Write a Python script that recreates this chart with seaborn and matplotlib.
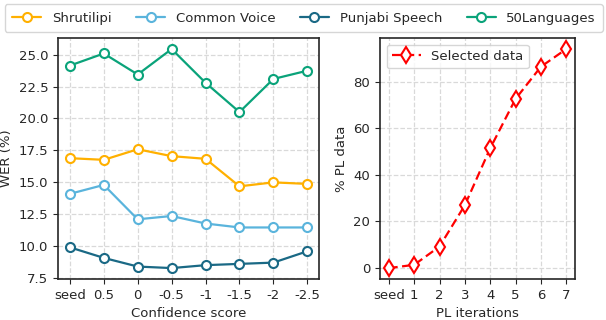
import pandas as pd
import matplotlib
matplotlib.use("Agg")
import matplotlib.pyplot as plt
import seaborn as sns

# left panel: WER vs confidence score threshold
scores = ["seed", "0.5", "0", "-0.5", "-1", "-1.5", "-2", "-2.5"]
shrutilipi = [16.88, 16.75, 17.58, 17.04, 16.83, 14.67, 14.98, 14.86]
common_voice = [14.08, 14.78, 12.08, 12.34, 11.75, 11.44, 11.44, 11.44]
punjabi_speech = [9.88, 9.05, 8.37, 8.25, 8.48, 8.58, 8.68, 9.57]
fifty_languages = [24.15, 25.1, 23.45, 25.45, 22.8, 20.5, 23.1, 23.75]
dataset_names = ["Shrutilipi", "Common Voice", "Punjabi Speech", "50Languages"]
colors = ["#FFB000", "#5AB4DC", "#1A6985", "#0AA37A"]

# right panel: selected PL data per iteration
iterations = ["seed", "1", "2", "3", "4", "5", "6", "7"]
pl_data = [0.0, 1.4, 9.25, 27.0, 51.4, 72.6, 86.4, 94.0]

sns.set_style("ticks")
plt.rcParams["font.family"] = ["DejaVu Sans"]
plt.rcParams["font.size"] = 9.5

fig = plt.figure(figsize=(6.06, 3.2), dpi=100)
ax1 = fig.add_axes([0.0957, 0.128, 0.431, 0.753])
ax2 = fig.add_axes([0.627, 0.128, 0.322, 0.753])

series = [shrutilipi, common_voice, punjabi_speech, fifty_languages]
for name, vals, c in zip(dataset_names, series, colors):
    sns.lineplot(x=scores, y=vals, color=c, marker="o", markersize=6.5,
                 markerfacecolor="white", markeredgecolor=c,
                 markeredgewidth=1.5, linewidth=1.6, label=name,
                 sort=False, ax=ax1)
handles, labels = ax1.get_legend_handles_labels()
ax1.get_legend().remove()
ax1.set_xlabel("Confidence score")
ax1.set_ylabel("WER (%)")
ax1.set_yticks([7.5, 10.0, 12.5, 15.0, 17.5, 20.0, 22.5, 25.0])
ax1.grid(True, linestyle="--", color="#d9d9d9", linewidth=0.9)

sns.lineplot(x=iterations, y=pl_data, color="red", linestyle=(0, (4, 2)),
             marker="d", markersize=8, markerfacecolor="white",
             markeredgecolor="red", markeredgewidth=1.5, linewidth=1.6,
             label="Selected data", sort=False, ax=ax2)
ax2.set_xlabel("PL iterations")
ax2.set_ylabel("% PL data")
ax2.set_yticks([0, 20, 40, 60, 80])
ax2.grid(True, linestyle="--", color="#d9d9d9", linewidth=0.9)
ax2.legend(loc="upper left", fontsize=9.5, handlelength=2.2)

for ax in (ax1, ax2):
    for sp in ax.spines.values():
        sp.set_linewidth(1.2)

fig.legend(handles, labels, loc="lower left", ncol=4, mode="expand",
           bbox_to_anchor=(0.008, 0.9, 0.987, 0.09), fontsize=9.5,
           frameon=True, handlelength=2.2, borderaxespad=0.0, borderpad=0.55)

fig.savefig("out.png", dpi=100)
